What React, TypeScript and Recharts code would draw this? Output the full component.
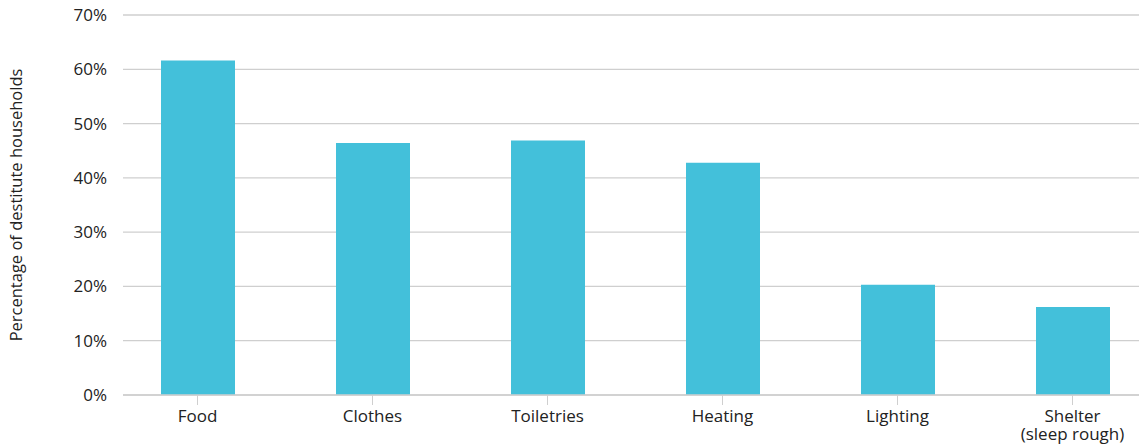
import * as React from "react"
import { BarChart, Bar, XAxis, YAxis, CartesianGrid, Label } from "recharts"

const categories = ["Food", "Clothes", "Toiletries", "Heating", "Lighting", "Shelter\n(sleep rough)"]
const shares = [61.6, 46.4, 46.9, 42.8, 20.3, 16.2]
const yTicks = [0, 10, 20, 30, 40, 50, 60, 70]

const data = categories.map((name, i) => ({ name, value: shares[i] }))

const FONT = "'Open Sans', sans-serif"
const TEXT = "#222"
const GRID = "#cfcfcf"

const CategoryTick = (props: any) => {
  const { x, y, payload } = props
  const lines = String(payload.value).split("\n")
  return (
    <g>
      {lines.map((line, i) => (
        <text key={i} x={x} y={y + 14 + i * 18} textAnchor="middle" fill={TEXT} fontFamily={FONT} fontSize={17}>
          {line}
        </text>
      ))}
    </g>
  )
}

const AxisTitle = (props: any) => {
  const { viewBox } = props
  const cx = viewBox.x + 18
  const cy = viewBox.y + viewBox.height / 2
  return (
    <text x={cx} y={cy} transform={`rotate(-90, ${cx}, ${cy})`} textAnchor="middle" dominantBaseline="middle" fill={TEXT} fontFamily={FONT} fontSize={16.5}>
      Percentage of destitute households
    </text>
  )
}

export default function App() {
  return (
    <div style={{ position: "absolute", left: 0, top: 0, width: 1139, height: 448, background: "#fff" }}>
      <BarChart width={1139} height={448} data={data} margin={{ top: 15, right: 0, bottom: 0, left: 0 }}>
        <CartesianGrid vertical={false} stroke={GRID} strokeWidth={1.3} />
        <XAxis
          dataKey="name"
          interval={0}
          height={53}
          padding={{ left: -13, right: -21 }}
          axisLine={{ stroke: GRID, strokeWidth: 1.3 }}
          tickLine={{ stroke: GRID }}
          tickSize={10}
          tickMargin={3}
          tick={<CategoryTick />}
        />
        <YAxis
          width={123}
          domain={[0, 70]}
          ticks={yTicks}
          interval={0}
          axisLine={false}
          tickLine={false}
          tickSize={6}
          tickMargin={10}
          tickFormatter={(v: number) => `${v}%`}
          tick={{ fill: TEXT, fontFamily: FONT, fontSize: 17 }}
        >
          <Label content={<AxisTitle />} />
        </YAxis>
        <Bar dataKey="value" fill="#43c0da" barSize={74} isAnimationActive={false} />
      </BarChart>
    </div>
  )
}
